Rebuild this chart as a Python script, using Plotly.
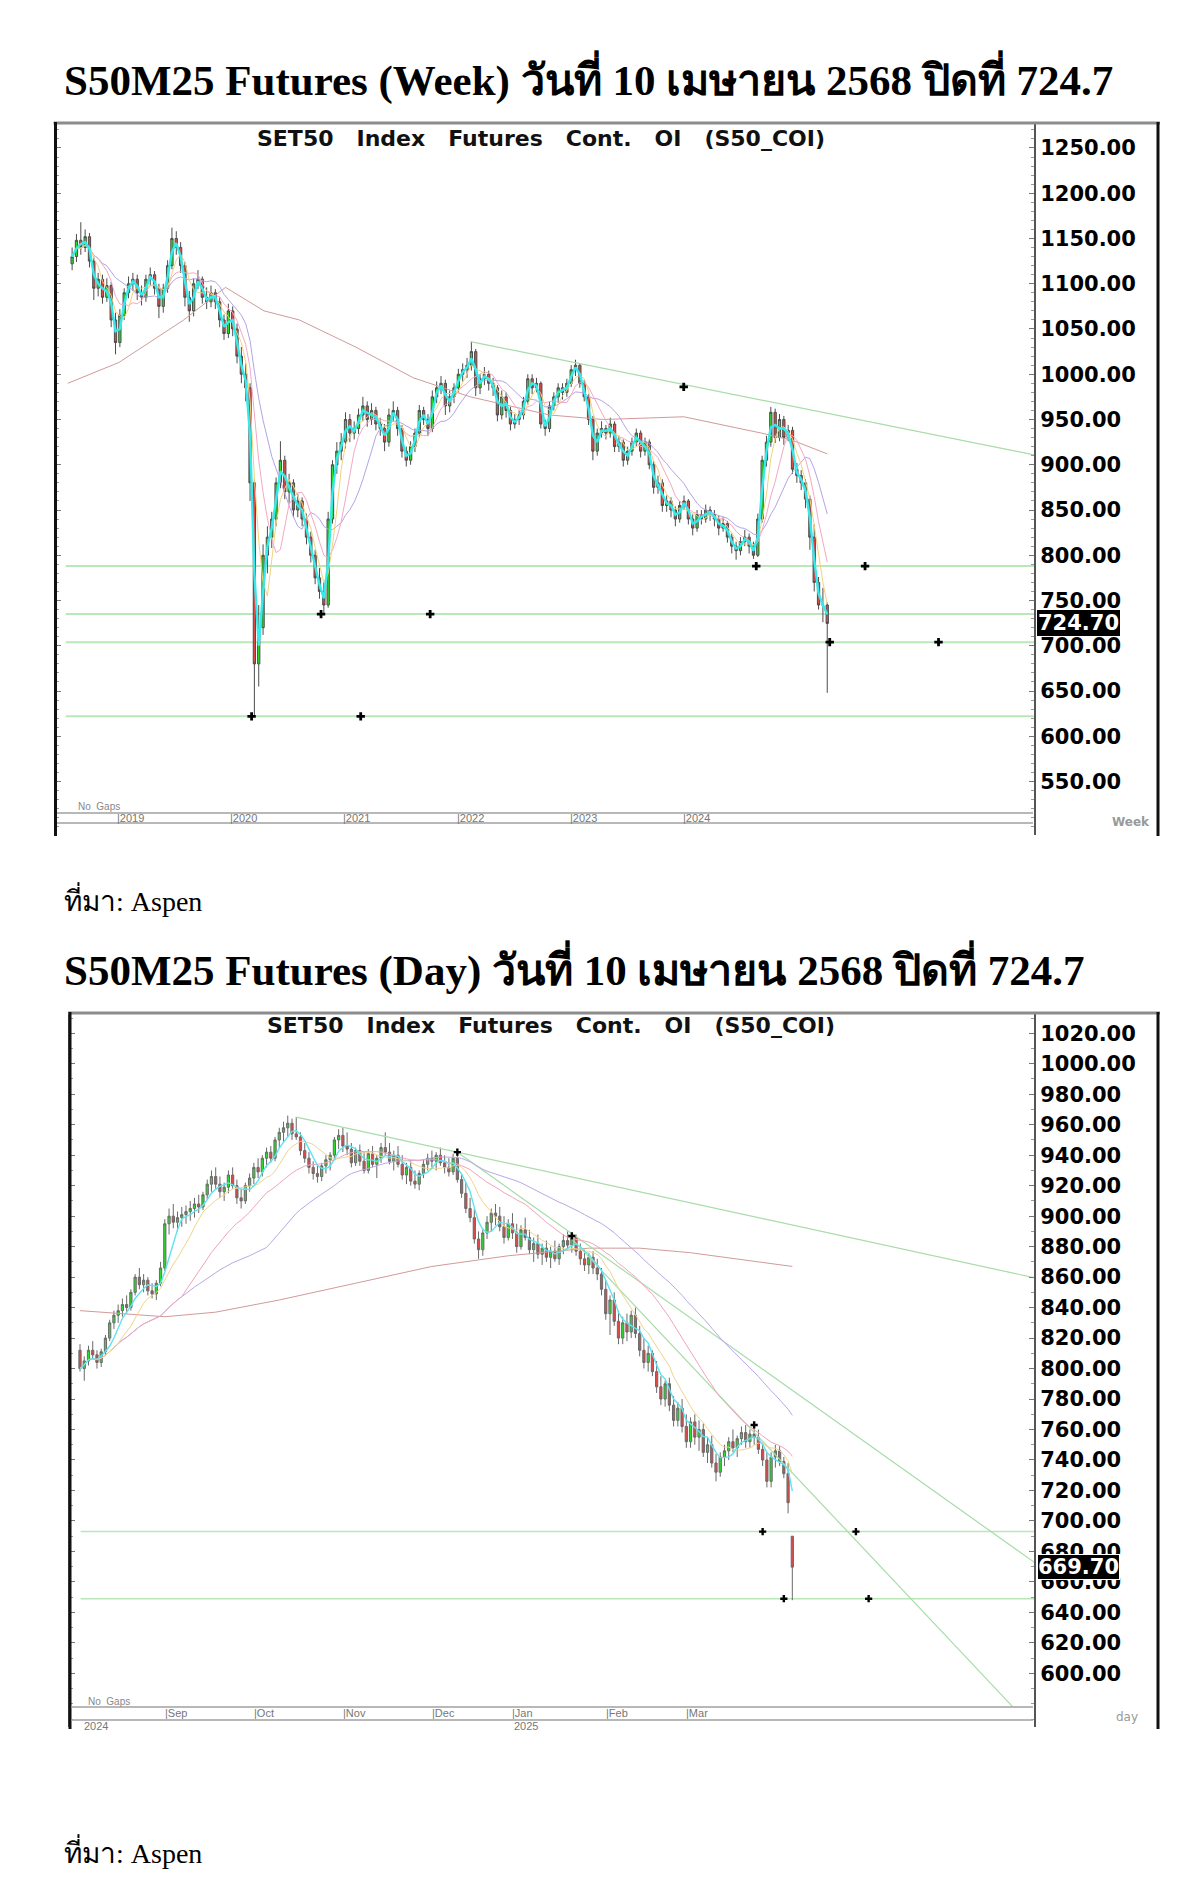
import pandas as pd
import plotly.graph_objects as go

# page body has an 8px margin: the figure is sized to fit inside it
W, H = 1184, 1881
OFF = 8
def PX(x): return (x - OFF) / W
def PY(y): return 1 - (y - OFF) / H

# ---------------- text ----------------
TITLE_WEEK = "S50M25 Futures (Week) วันที่ 10 เมษายน 2568 ปิดที่ 724.7"
TITLE_DAY = "S50M25 Futures (Day) วันที่ 10 เมษายน 2568 ปิดที่ 724.7"
SOURCE = "ที่มา: Aspen"
CHART_TITLE_WORDS = ["SET50", "Index", "Futures", "Cont.", "OI", "(S50_COI)"]

# ---------------- weekly chart data (one candle per two weeks) ----------------
W_LAST = "2025-04-11"
W_OPEN = [1122,1130,1148,1140,1152,1125,1095,1105,1085,1098,
          1060,1035,1065,1090,1100,1105,1090,1085,1105,1110,
          1095,1075,1095,1120,1150,1140,1120,1085,1070,1100,
          1105,1085,1080,1090,1080,1060,1045,1070,1050,1020,
          1000,985,880,680,720,800,820,840,880,905,
          870,880,850,860,840,820,800,775,760,745,
          840,900,915,925,950,935,940,955,965,950,
          960,945,940,925,955,960,940,915,905,920,
          935,960,950,940,975,985,990,965,975,985,
          1000,1005,1010,1025,985,995,1000,990,985,955,
          975,960,945,950,955,970,995,985,990,945,
          940,965,975,985,980,990,1005,1010,990,975,
          950,915,935,940,935,945,920,925,905,915,
          925,935,915,925,900,875,880,855,860,850,
          840,855,860,840,830,845,840,850,845,840,
          830,835,820,810,805,815,820,810,800,840,
          905,925,958,930,950,930,938,895,888,880,
          862,820,770,745,745]
W_HIGH = [1140,1155,1168,1160,1156,1130,1112,1110,1106,1102,
          1068,1072,1095,1108,1112,1110,1098,1110,1118,1114,
          1100,1100,1126,1162,1158,1146,1124,1092,1106,1115,
          1108,1096,1098,1094,1085,1066,1078,1075,1056,1030,
          1012,990,885,745,812,832,848,886,926,910,
          890,884,868,864,846,826,806,786,770,848,
          905,925,935,958,956,948,962,975,970,968,
          964,952,945,962,970,964,944,920,926,940,
          966,964,956,982,992,998,994,982,990,1006,
          1012,1018,1036,1028,1000,1008,1004,996,988,982,
          980,964,956,960,975,1000,1000,996,992,950,
          970,980,990,990,995,1010,1016,1012,994,978,
          954,940,948,944,952,948,932,928,920,930,
          940,938,930,928,904,888,884,866,864,854,
          860,866,862,845,850,850,856,854,850,844,
          842,838,824,815,820,828,824,815,846,910,
          932,964,962,956,954,944,942,902,894,884,
          866,834,776,764,748]
W_LOW = [1115,1124,1132,1135,1118,1082,1086,1078,1080,1052,
         1022,1030,1060,1084,1092,1082,1076,1080,1098,1088,
         1062,1068,1090,1116,1132,1112,1075,1058,1064,1094,
         1078,1072,1074,1072,1052,1038,1040,1042,1012,990,
         970,860,622,655,712,780,808,832,874,862,
         858,842,842,832,812,792,768,752,735,742,
         835,890,905,918,925,928,934,948,942,944,
         938,932,915,920,948,932,908,898,900,914,
         930,944,932,936,968,978,955,958,968,980,
         992,996,1004,976,978,988,982,976,948,950,
         952,938,940,944,950,966,978,980,940,932,
         936,960,968,972,975,986,998,985,970,944,
         905,910,930,928,930,914,914,898,900,910,
         920,908,910,895,868,868,848,848,842,832,
         836,850,834,822,826,834,836,838,832,822,
         826,814,802,795,800,810,802,796,798,836,
         898,920,924,926,922,926,890,880,872,852,
         806,760,740,726,648]
W_CLOSE = [1130,1148,1140,1152,1125,1095,1105,1085,1098,1060,
           1035,1065,1090,1100,1105,1090,1085,1105,1110,1095,
           1075,1095,1120,1150,1140,1120,1085,1070,1100,1105,
           1085,1080,1090,1080,1060,1045,1070,1050,1020,1000,
           985,880,680,720,800,820,840,880,905,870,
           880,850,860,840,820,800,775,760,745,840,
           900,915,925,950,935,940,955,965,950,960,
           945,940,925,955,960,940,915,905,920,935,
           960,950,940,975,985,990,965,975,985,1000,
           1005,1010,1025,985,995,1000,990,985,955,975,
           960,945,950,955,970,995,985,990,945,940,
           965,975,985,980,990,1005,1010,990,975,950,
           915,935,940,935,945,920,925,905,915,925,
           935,915,925,900,875,880,855,860,850,840,
           855,860,840,830,845,840,850,845,840,830,
           835,820,810,805,815,820,810,800,840,905,
           925,958,930,950,930,938,895,888,880,862,
           820,770,745,745,724.7]
W_LMA_DATES = ["2018-07-27","2019-01-08","2019-08-05","2019-12-18","2020-04-20",
               "2020-08-12","2021-02-10","2021-08-15","2022-02-15","2022-10-28",
               "2023-04-20","2024-01-04","2024-09-10","2024-12-20","2025-04-11"]
W_LMA_VALS = [990,1013,1060,1096,1070,1060,1030,996,975,955,950,953,935,927,912]
W_SUPPORT = [788, 735, 704, 622]
W_TREND_DATES = ["2022-02-15", "2027-02-07"]
W_TREND_VALS = [1036, 911]
W_MARK_DATES = ["2020-03-11","2021-02-26","2020-10-21","2021-10-08","2024-08-25",
                "2025-08-11","2025-04-19","2026-04-05","2024-01-04"]
W_MARK_VALS = [622,622,735,735,788,788,704,704,986]
W_YEARS = ["2019","2020","2021","2022","2023","2024"]
W_YTICKS = [550,600,650,700,750,800,850,900,950,1000,1050,1100,1150,1200,1250]
W_LAST_PRICE = 724.7

# ---------------- daily chart data ----------------
D_START = "2024-08-02"
D_HOLIDAYS = ["2024-08-12","2024-10-14","2024-10-23","2024-12-05","2024-12-10",
              "2024-12-31","2025-01-01","2025-02-12","2025-04-07"]
D_OPEN = [812,800,805,812,809,804,811,820,830,835,
          838,842,840,850,860,855,858,851,849,856,
          866,895,900,896,899,901,903,905,908,906,
          914,921,926,921,916,919,927,920,912,910,
          920,925,932,929,938,942,938,950,955,958,
          961,954,952,943,938,932,928,926,933,937,
          940,950,953,946,944,935,943,936,930,941,
          934,938,945,942,936,940,934,927,932,923,
          921,928,934,938,936,940,935,932,929,938,
          924,915,905,899,885,878,889,896,902,900,
          893,886,895,889,880,891,886,878,882,875,
          879,873,877,872,880,884,881,886,877,872,
          868,873,866,862,852,836,845,831,820,830,
          824,835,823,812,804,810,798,788,780,790,
          776,766,774,762,752,765,755,760,745,750,
          738,732,742,746,752,748,754,758,752,757,
          755,747,740,726,742,746,739,731,690]
D_HIGH = [816,808,815,818,812,813,822,832,838,842,
          846,848,852,862,866,862,860,856,858,870,
          898,905,908,903,906,907,910,912,914,916,
          924,930,932,926,922,930,932,924,918,922,
          928,935,938,940,945,946,952,958,962,966,
          964,965,955,948,942,936,934,935,940,942,
          952,957,958,955,948,945,947,942,944,946,
          940,948,955,948,943,946,940,935,936,930,
          930,937,941,943,942,945,940,938,941,942,
          928,922,912,905,890,892,900,905,908,906,
          900,898,902,895,894,899,891,886,888,882,
          884,880,884,882,888,890,889,888,882,878,
          876,877,872,866,858,848,850,838,834,836,
          838,840,828,820,815,812,805,795,792,794,
          782,778,780,770,768,770,766,764,755,756,
          744,745,750,755,760,756,762,763,760,764,
          760,751,745,745,750,749,742,738,690]
D_LOW = [798,792,802,806,800,801,809,818,826,830,
         834,836,838,848,852,850,848,846,845,854,
         864,888,892,890,893,895,897,899,902,904,
         911,916,918,912,910,915,918,908,905,908,
         916,921,925,926,932,935,936,945,948,952,
         950,950,940,935,928,924,922,923,928,930,
         937,944,942,940,932,933,933,928,928,932,
         925,935,940,934,930,932,924,921,920,918,
         917,925,930,932,930,933,928,926,927,922,
         912,902,896,882,872,874,885,890,894,890,
         882,884,885,876,878,884,875,870,872,868,
         870,866,870,868,875,878,876,874,868,864,
         862,862,858,848,832,822,828,816,816,818,
         820,820,808,800,798,795,784,776,775,772,
         762,762,758,748,748,750,746,742,738,735,
         726,729,736,740,745,742,750,748,748,750,
         744,736,722,722,735,736,728,705,648]
D_CLOSE = [800,805,812,809,804,811,820,830,835,838,
           842,840,850,860,855,858,851,849,856,866,
           895,900,896,899,901,903,905,908,906,914,
           921,926,921,916,919,927,920,912,910,920,
           925,932,929,938,942,938,950,955,958,961,
           954,952,943,938,932,928,926,933,937,940,
           950,953,946,944,935,943,936,930,941,934,
           938,945,942,936,940,934,927,932,923,921,
           928,934,938,936,940,935,932,929,938,924,
           915,905,899,885,878,889,896,902,900,893,
           886,895,889,880,891,886,878,882,875,879,
           873,877,872,880,884,881,886,877,872,868,
           873,866,862,852,836,845,831,820,830,824,
           835,823,812,804,810,798,788,780,790,776,
           766,774,762,752,765,755,760,745,750,738,
           732,742,746,752,748,754,758,752,757,755,
           747,740,726,742,746,739,731,712,669.7]
D_LMA_DATES = ["2024-08-02","2024-09-02","2024-09-18","2024-10-09","2024-11-06",
               "2024-12-02","2024-12-30","2025-01-10","2025-01-28","2025-02-14",
               "2025-03-04","2025-04-08"]
D_LMA_VALS = [838,834,837,845,856,867,874,876,879,879,876,867]
D_SUPPORT = [693, 649]
D_TREND_X0 = ["2024-10-16", "2024-12-12", "2025-01-21"]
D_TREND_Y0 = [965, 942, 888]
D_TREND_X1 = ["2025-07-03", "2025-07-03", "2025-06-19"]
D_TREND_Y1 = [856.6, 663.1, 578]
D_MARK_X = ["2024-12-12","2025-01-22","2025-03-25","2025-03-27","2025-04-29","2025-04-03","2025-05-02"]
D_MARK_Y = [942, 887, 763, 693, 693, 649, 649]
D_MONTH_DATES = ["2024-09-02","2024-10-01","2024-11-01","2024-12-02","2025-01-02","2025-02-03","2025-03-03"]
D_MONTH_TEXT = ["Sep","Oct","Nov","Dec","Jan","Feb","Mar"]
D_YTICKS = [600,620,640,660,680,700,720,740,760,780,800,820,840,860,880,900,920,940,960,980,1000,1020]
D_LAST_PRICE = 669.7

# ---------------- styles ----------------
W_MA_STYLE = [(2, "#35eaea", 2.4), (4, "#f2d27a", 1), (7, "#f4a8c4", 1), (12, "#b4a4e4", 1)]
D_MA_STYLE = [(5, "#5fe3f0", 1.4), (10, "#f0d48c", 1), (25, "#f0a4bc", 1), (45, "#b8a8e8", 1)]
LMA_COLOR = "#d29a9a"
SUP_COLOR = "#b8e8b8"
TREND_COLOR = "#a8dca8"
UP_FILL, DN_FILL = "#2bdc2b", "#dc4a4a"
W_WICK, D_WICK = "#4c4c4c", "#6a6a6a"

fig = go.Figure()

# ---- weekly ----
w_dates = pd.date_range(end=W_LAST, periods=len(W_CLOSE), freq="14D")
wc = pd.Series(W_CLOSE, dtype=float)
fig.add_trace(go.Scatter(x=W_LMA_DATES, y=W_LMA_VALS, mode="lines",
                         line=dict(color=LMA_COLOR, width=1), xaxis="x", yaxis="y", hoverinfo="skip"))
fig.add_trace(go.Scatter(x=W_TREND_DATES, y=W_TREND_VALS, mode="lines",
                         line=dict(color=TREND_COLOR, width=1.3), xaxis="x", yaxis="y", hoverinfo="skip"))
fig.add_trace(go.Candlestick(x=w_dates, open=W_OPEN, high=W_HIGH, low=W_LOW, close=W_CLOSE,
                             increasing=dict(line=dict(color=W_WICK, width=1), fillcolor=UP_FILL),
                             decreasing=dict(line=dict(color=W_WICK, width=1), fillcolor=DN_FILL),
                             xaxis="x", yaxis="y", hoverinfo="skip"))
for n, col, lw in W_MA_STYLE[::-1]:
    fig.add_trace(go.Scatter(x=w_dates, y=wc.rolling(n, min_periods=1).mean(), mode="lines",
                             line=dict(color=col, width=lw), xaxis="x", yaxis="y", hoverinfo="skip"))
fig.add_trace(go.Scatter(x=W_MARK_DATES, y=W_MARK_VALS, mode="markers",
                         marker=dict(symbol="cross", size=7, color="black"),
                         xaxis="x", yaxis="y", hoverinfo="skip"))

# ---- daily ----
bd = pd.bdate_range(D_START, "2025-07-31")
bd = bd[~bd.isin(pd.to_datetime(D_HOLIDAYS))]
cats = [d.strftime("%Y-%m-%d") for d in bd]
d_dates = cats[:len(D_CLOSE)]
dc = pd.Series(D_CLOSE, dtype=float)

fig.add_trace(go.Scatter(x=cats, y=[None] * len(cats), mode="lines", xaxis="x2", yaxis="y2",
                         hoverinfo="skip", showlegend=False))
fig.add_trace(go.Scatter(x=D_LMA_DATES, y=D_LMA_VALS, mode="lines",
                         line=dict(color=LMA_COLOR, width=1), xaxis="x2", yaxis="y2", hoverinfo="skip"))
for i in range(len(D_TREND_X0)):
    fig.add_trace(go.Scatter(x=[D_TREND_X0[i], D_TREND_X1[i]], y=[D_TREND_Y0[i], D_TREND_Y1[i]],
                             mode="lines", line=dict(color=TREND_COLOR, width=1.2),
                             xaxis="x2", yaxis="y2", hoverinfo="skip"))
for n, col, lw in D_MA_STYLE[::-1]:
    fig.add_trace(go.Scatter(x=d_dates, y=dc.rolling(n, min_periods=1).mean(), mode="lines",
                             line=dict(color=col, width=lw), xaxis="x2", yaxis="y2", hoverinfo="skip"))
fig.add_trace(go.Candlestick(x=d_dates, open=D_OPEN, high=D_HIGH, low=D_LOW, close=D_CLOSE,
                             increasing=dict(line=dict(color=D_WICK, width=1), fillcolor=UP_FILL),
                             decreasing=dict(line=dict(color=D_WICK, width=1), fillcolor=DN_FILL),
                             xaxis="x2", yaxis="y2", hoverinfo="skip"))
fig.add_trace(go.Scatter(x=D_MARK_X, y=D_MARK_Y, mode="markers",
                         marker=dict(symbol="cross", size=6, color="black"),
                         xaxis="x2", yaxis="y2", hoverinfo="skip"))

# ---------------- axes ----------------
ytick_font = dict(family="DejaVu Sans", size=21, color="black", weight="bold")
common_y = dict(side="right", showgrid=False, zeroline=False, showline=True, linecolor="#555555",
                linewidth=2, mirror="ticks", ticks="inside", ticklen=5, tickcolor="#777777",
                tickfont=ytick_font, fixedrange=True,
                minor=dict(ticks="inside", ticklen=3, dtick=10, tick0=0, tickcolor="#999999"))
common_x = dict(showgrid=False, zeroline=False, showticklabels=False, ticks="", showline=False,
                rangeslider=dict(visible=False), fixedrange=True)

fig.update_layout(
    width=W, height=H, margin=dict(l=0, r=0, t=0, b=0),
    paper_bgcolor="white", plot_bgcolor="white", showlegend=False,
    font=dict(family="DejaVu Sans"), boxgap=0.25,
    xaxis=dict(domain=[PX(56), PX(1034)], type="date", range=["2018-06-19", "2027-02-07"], **common_x),
    yaxis=dict(domain=[PY(835), PY(124)], range=[490.9, 1276.5], anchor="x",
               tickvals=W_YTICKS, ticktext=[f"{v:.2f}" for v in W_YTICKS], **common_y),
    xaxis2=dict(domain=[PX(70), PX(1034)], type="category", categoryorder="array",
                categoryarray=cats, range=[-2.36, 225], anchor="y2", **common_x),
    yaxis2=dict(domain=[PY(1727), PY(1013)], range=[564.8, 1033.3], anchor="x2",
                tickvals=D_YTICKS, ticktext=[f"{v:.2f}" for v in D_YTICKS], **common_y),
)

shapes = []
for lv in W_SUPPORT:
    shapes.append(dict(type="line", xref="x domain", yref="y", x0=0.01, x1=1, y0=lv, y1=lv,
                       line=dict(color=SUP_COLOR, width=2), layer="below"))
for lv in D_SUPPORT:
    shapes.append(dict(type="line", xref="x2 domain", yref="y2", x0=0.011, x1=1, y0=lv, y1=lv,
                       line=dict(color=SUP_COLOR, width=1.5), layer="below"))

def frame(top, bottom, left):
    return [
        dict(type="line", xref="paper", yref="paper", x0=PX(left - 2), x1=PX(1160), y0=PY(top), y1=PY(top),
             line=dict(color="#8c8c8c", width=3)),
        dict(type="line", xref="paper", yref="paper", x0=PX(left), x1=PX(left), y0=PY(top - 1), y1=PY(bottom),
             line=dict(color="#111111", width=3)),
        dict(type="line", xref="paper", yref="paper", x0=PX(1158), x1=PX(1158), y0=PY(top - 1), y1=PY(bottom),
             line=dict(color="#111111", width=3)),
    ]

def band(y0, y1, left):
    return [dict(type="line", xref="paper", yref="paper", x0=PX(left), x1=PX(1033), y0=PY(y), y1=PY(y),
                 line=dict(color="#a0a0a0", width=1.5)) for y in (y0, y1)]

shapes += frame(123, 836, 55.5) + band(813, 823, 57)
shapes += frame(1013, 1729, 70) + band(1707, 1720, 71)
fig.update_layout(shapes=shapes)

ann = []
serif = "Liberation Serif, Times New Roman, serif"
ann.append(dict(text=TITLE_WEEK, x=PX(62), y=PY(77), xref="paper", yref="paper", xanchor="left",
                yanchor="middle", showarrow=False, font=dict(family=serif, size=43, color="black", weight="bold")))
ann.append(dict(text=SOURCE, x=PX(62), y=PY(900), xref="paper", yref="paper", xanchor="left",
                yanchor="middle", showarrow=False, font=dict(family=serif, size=28, color="black")))
ann.append(dict(text=TITLE_DAY, x=PX(62), y=PY(968), xref="paper", yref="paper", xanchor="left",
                yanchor="middle", showarrow=False, font=dict(family=serif, size=43, color="black", weight="bold")))
ann.append(dict(text=SOURCE, x=PX(62), y=PY(1851), xref="paper", yref="paper", xanchor="left",
                yanchor="middle", showarrow=False, font=dict(family=serif, size=28, color="black")))

chart_title = ("\u00a0" * 3).join(CHART_TITLE_WORDS)
title_font = dict(family="DejaVu Sans", size=22, color="#111111", weight="bold")
ann.append(dict(text=chart_title, x=PX(541), y=PY(139), xref="paper", yref="paper", xanchor="center",
                yanchor="middle", showarrow=False, font=title_font))
ann.append(dict(text=chart_title, x=PX(551), y=PY(1026), xref="paper", yref="paper", xanchor="center",
                yanchor="middle", showarrow=False, font=title_font))

small = dict(family="Arial, Liberation Sans, sans-serif", size=11, color="#777777")
for yr in W_YEARS:
    ann.append(dict(text="|" + yr, x=yr + "-01-01", xref="x", y=PY(818), yref="paper", xanchor="left",
                    yanchor="middle", xshift=-2, showarrow=False, font=small))
for d, t in zip(D_MONTH_DATES, D_MONTH_TEXT):
    ann.append(dict(text="|" + t, x=d, xref="x2", y=PY(1713), yref="paper", xanchor="left",
                    yanchor="middle", xshift=-2, showarrow=False, font=small))
ann.append(dict(text="2024", x=PX(82), xref="paper", y=PY(1726), yref="paper", xanchor="left",
                yanchor="middle", showarrow=False, font=small))
ann.append(dict(text="2025", x="2025-01-02", xref="x2", y=PY(1726), yref="paper", xanchor="left",
                yanchor="middle", showarrow=False, font=small))
ann.append(dict(text="No  Gaps", x=PX(76), y=PY(806), xref="paper", yref="paper", xanchor="left",
                yanchor="middle", showarrow=False, font=dict(family="Arial", size=10, color="#888888")))
ann.append(dict(text="No  Gaps", x=PX(86), y=PY(1701), xref="paper", yref="paper", xanchor="left",
                yanchor="middle", showarrow=False, font=dict(family="Arial", size=10, color="#888888")))
ann.append(dict(text="Week", x=PX(1110), y=PY(822), xref="paper", yref="paper", xanchor="left",
                yanchor="middle", showarrow=False,
                font=dict(family="DejaVu Sans", size=12, color="#999999", weight="bold")))
ann.append(dict(text="day", x=PX(1114), y=PY(1717), xref="paper", yref="paper", xanchor="left",
                yanchor="middle", showarrow=False, font=dict(family="DejaVu Sans", size=12, color="#999999")))

ann.append(dict(text=f"{W_LAST_PRICE:.2f}", x=PX(1037), xref="paper", y=W_LAST_PRICE, yref="y",
                xanchor="left", yanchor="middle", showarrow=False, bgcolor="black", bordercolor="black",
                borderwidth=1, borderpad=0, font=dict(family="DejaVu Sans", size=21, color="white", weight="bold")))
ann.append(dict(text=f"{D_LAST_PRICE:.2f}", x=PX(1037), xref="paper", y=D_LAST_PRICE, yref="y2",
                xanchor="left", yanchor="middle", showarrow=False, bgcolor="black", bordercolor="white",
                borderwidth=1, borderpad=0, font=dict(family="DejaVu Sans", size=21, color="white", weight="bold")))
fig.update_layout(annotations=ann)

fig.write_html("out.html")
